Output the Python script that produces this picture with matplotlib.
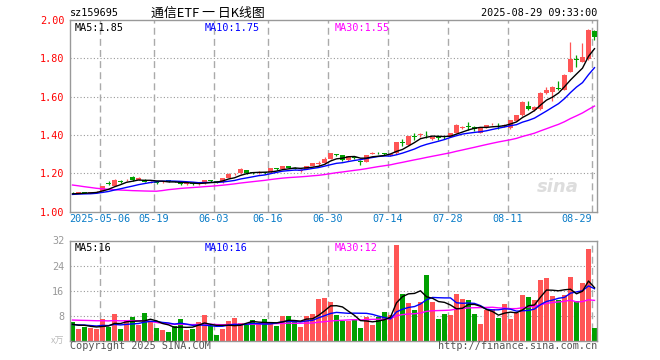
import numpy as np
import pandas as pd
import matplotlib.pyplot as plt

code = "sz159695"
title = "通信ETF 一 日K线图"
stamp = "2025-08-29 09:33:00"

tick_idx = [5, 14, 24, 33, 43, 53, 63, 73, 87]
tick_lbl = ["2025-05-06", "05-19", "06-03", "06-16", "06-30",
            "07-14", "07-28", "08-11", "08-29"]

opens = [1.097, 1.096, 1.100, 1.097, 1.098, 1.107, 1.147, 1.135, 1.156, 1.163,
         1.182, 1.165, 1.165, 1.150, 1.152, 1.152, 1.165, 1.157, 1.152, 1.143,
         1.150, 1.142, 1.147, 1.160, 1.157, 1.152, 1.177, 1.194, 1.200, 1.215,
         1.202, 1.203, 1.202, 1.205, 1.224, 1.222, 1.237, 1.226, 1.213, 1.222,
         1.239, 1.248, 1.252, 1.274, 1.296, 1.295, 1.269, 1.282, 1.262, 1.260,
         1.302, 1.306, 1.301, 1.293, 1.304, 1.362, 1.347, 1.392, 1.399, 1.402,
         1.377, 1.387, 1.389, 1.390, 1.410, 1.438, 1.442, 1.443, 1.410, 1.440,
         1.455, 1.452, 1.446, 1.434, 1.473, 1.504, 1.551, 1.530, 1.534, 1.617,
         1.626, 1.643, 1.634, 1.730, 1.794, 1.782, 1.795, 1.943]
closes = [1.094, 1.102, 1.098, 1.099, 1.104, 1.133, 1.145, 1.164, 1.154, 1.166,
          1.162, 1.176, 1.156, 1.154, 1.150, 1.156, 1.157, 1.155, 1.142, 1.146,
          1.142, 1.146, 1.164, 1.158, 1.155, 1.173, 1.198, 1.196, 1.220, 1.200,
          1.200, 1.206, 1.200, 1.227, 1.222, 1.237, 1.227, 1.224, 1.216, 1.237,
          1.252, 1.251, 1.274, 1.304, 1.294, 1.269, 1.289, 1.280, 1.260, 1.295,
          1.305, 1.304, 1.299, 1.300, 1.361, 1.356, 1.394, 1.389, 1.401, 1.398,
          1.387, 1.385, 1.387, 1.410, 1.452, 1.441, 1.440, 1.430, 1.434, 1.450,
          1.458, 1.450, 1.449, 1.478, 1.504, 1.573, 1.534, 1.547, 1.620, 1.634,
          1.652, 1.640, 1.713, 1.795, 1.790, 1.805, 1.948, 1.913]
highs = [1.100, 1.104, 1.101, 1.101, 1.106, 1.135, 1.157, 1.170, 1.162, 1.168,
         1.183, 1.178, 1.170, 1.157, 1.156, 1.158, 1.166, 1.160, 1.154, 1.150,
         1.152, 1.149, 1.166, 1.163, 1.159, 1.175, 1.200, 1.200, 1.228, 1.217,
         1.205, 1.213, 1.206, 1.229, 1.228, 1.239, 1.239, 1.230, 1.222, 1.239,
         1.254, 1.262, 1.285, 1.306, 1.300, 1.297, 1.292, 1.287, 1.268, 1.297,
         1.312, 1.312, 1.306, 1.302, 1.363, 1.378, 1.396, 1.412, 1.410, 1.418,
         1.390, 1.398, 1.396, 1.412, 1.455, 1.446, 1.468, 1.447, 1.436, 1.452,
         1.462, 1.460, 1.455, 1.480, 1.506, 1.576, 1.575, 1.550, 1.622, 1.652,
         1.655, 1.680, 1.716, 1.887, 1.818, 1.880, 1.953, 1.950]
lows = [1.090, 1.094, 1.095, 1.094, 1.095, 1.105, 1.136, 1.133, 1.148, 1.158,
        1.160, 1.163, 1.152, 1.148, 1.145, 1.150, 1.154, 1.152, 1.140, 1.140,
        1.140, 1.139, 1.145, 1.155, 1.150, 1.150, 1.175, 1.190, 1.198, 1.198,
        1.196, 1.198, 1.196, 1.203, 1.218, 1.220, 1.225, 1.220, 1.205, 1.220,
        1.237, 1.240, 1.250, 1.272, 1.288, 1.266, 1.266, 1.274, 1.245, 1.257,
        1.298, 1.298, 1.294, 1.290, 1.302, 1.340, 1.345, 1.375, 1.387, 1.385,
        1.372, 1.375, 1.380, 1.388, 1.408, 1.430, 1.425, 1.420, 1.408, 1.438,
        1.450, 1.430, 1.440, 1.430, 1.471, 1.500, 1.530, 1.527, 1.532, 1.614,
        1.575, 1.634, 1.632, 1.728, 1.756, 1.780, 1.793, 1.896]
# volume in 万手
volumes = [6.1, 3.6, 4.5, 3.9, 3.8, 6.9, 4.5, 8.5, 3.7, 6.6,
           7.6, 5.0, 8.8, 6.3, 4.0, 3.4, 2.8, 4.7, 6.9, 3.5,
           3.7, 6.0, 8.2, 4.8, 1.8, 3.7, 6.3, 7.4, 5.5, 5.0,
           6.6, 5.2, 6.8, 5.3, 4.7, 7.9, 7.9, 6.4, 4.4, 7.9,
           8.4, 13.3, 13.6, 12.4, 8.2, 6.4, 6.4, 7.0, 4.1, 7.6,
           5.0, 7.7, 9.1, 8.2, 30.5, 14.9, 12.1, 9.8, 12.4, 21.0,
           12.4, 6.9, 8.5, 8.2, 14.9, 13.3, 13.0, 8.5, 5.3, 9.8,
           10.0, 7.2, 11.7, 6.9, 8.7, 14.6, 13.9, 13.0, 19.4, 20.0,
           14.3, 13.0, 14.6, 20.3, 12.7, 18.4, 29.3, 4.0]

# the 29 sessions before the window, only needed to seed the moving averages
hist_close = [1.227, 1.239, 1.220, 1.231, 1.213, 1.222, 1.229, 1.211, 1.203, 1.210,
              1.204, 1.186, 1.175, 1.162, 1.052, 1.018, 1.063, 1.041, 1.072, 1.078,
              1.083, 1.089, 1.092, 1.080, 1.087, 1.096, 1.088, 1.090, 1.093]
hist_vol = [5.6, 6.0, 5.3, 5.8, 6.7, 6.1, 5.6, 6.0, 5.3, 6.4,
            7.0, 8.6, 12.5, 14.6, 10.4, 8.8, 7.6, 6.9, 5.9, 5.2,
            5.0, 4.8, 5.6, 5.3, 4.9, 5.1, 4.6, 5.5, 4.9]

RED = "#ff5555"
GREEN = "#00a000"
MONO = "DejaVu Sans Mono"
n = len(closes)
h = len(hist_close)


def ma(hist, vals, k):
    s = pd.Series(hist + vals)
    return s.rolling(k).mean().iloc[h:].values


o = np.array(opens)
c = np.array(closes)
x = np.arange(n)
cols = [RED if c[i] >= o[i] else GREEN for i in range(n)]

fig = plt.figure(figsize=(6.6, 3.6), dpi=100)
W, H = 660, 360
ax1 = fig.add_axes([70 / W, 1 - 211.5 / H, 527 / W, 191.5 / H])
ax2 = fig.add_axes([70 / W, 1 - 340.7 / H, 527 / W, 100.2 / H])

xl = (-0.417, n - 1 + 0.417)
grid_x = [i - 0.417 for i in tick_idx]

# price panel
for lv in [1.2, 1.4, 1.6, 1.8]:
    ax1.axhline(lv, color="#999999", lw=0.8, ls=(0, (1, 2)), zorder=0)
for gx in grid_x:
    ax1.axvline(gx, color="#aaaaaa", lw=1.0, ls=(0, (5, 3)), zorder=0)

body_lo = np.minimum(o, c)
body_h = np.maximum(np.abs(c - o), 0.004)
ax1.vlines(x, lows, highs, colors=cols, lw=0.9, zorder=2)
ax1.bar(x, body_h, bottom=body_lo, width=0.83, color=cols, lw=0, zorder=3)

ma5 = ma(hist_close, closes, 5)
ma10 = ma(hist_close, closes, 10)
ma30 = ma(hist_close, closes, 30)
ax1.plot(x, ma30, color="#ff00ff", lw=1.0, zorder=4)
ax1.plot(x, ma10, color="#0000ff", lw=1.0, zorder=4)
ax1.plot(x, ma5, color="black", lw=1.0, zorder=4)

ax1.set_xlim(*xl)
ax1.set_ylim(1.0, 2.0)
ax1.set_yticks(np.arange(1.0, 2.01, 0.2))
ax1.set_yticklabels(["%.2f" % v for v in np.arange(1.0, 2.01, 0.2)],
                    color="red", fontsize=7.3, family=MONO)
ax1.set_xticks(grid_x)
ax1.set_xticklabels(tick_lbl, color="#0a7cc7", fontsize=7.3, family=MONO)
ax1.get_xticklabels()[-1].set_ha("right")
ax1.tick_params(length=0, pad=4)
ax1.tick_params(axis="x", pad=2)

ax1.text(5 / 527, 0.985, "MA5:%.2f" % ma5[-1], transform=ax1.transAxes,
         va="top", fontsize=7.3, family=MONO, color="black")
ax1.text(135 / 527, 0.985, "MA10:%.2f" % ma10[-1], transform=ax1.transAxes,
         va="top", fontsize=7.3, family=MONO, color="#0000ff")
ax1.text(265 / 527, 0.985, "MA30:%.2f" % ma30[-1], transform=ax1.transAxes,
         va="top", fontsize=7.3, family=MONO, color="#ff00ff")
ax1.text(0.965, 0.1, "sina", transform=ax1.transAxes, ha="right",
         fontsize=13, fontweight="bold", style="italic", color="#dddddd",
         zorder=1)

# volume panel
for lv in [8, 16, 24]:
    ax2.axhline(lv, color="#999999", lw=0.8, ls=(0, (1, 2)), zorder=0)
for gx in grid_x:
    ax2.axvline(gx, color="#aaaaaa", lw=1.0, ls=(0, (5, 3)), zorder=0)

ax2.bar(x, volumes, width=0.83, color=cols, lw=0, zorder=2)
vma5 = ma(hist_vol, volumes, 5)
vma10 = ma(hist_vol, volumes, 10)
vma30 = ma(hist_vol, volumes, 30)
ax2.plot(x, vma30, color="#ff00ff", lw=1.0, zorder=3)
ax2.plot(x, vma10, color="#0000ff", lw=1.0, zorder=3)
ax2.plot(x, vma5, color="black", lw=1.0, zorder=3)

ax2.set_xlim(*xl)
ax2.set_ylim(0, 32)
ax2.set_yticks([8, 16, 24, 32])
ax2.set_yticklabels(["8", "16", "24", "32"], color="#999999",
                    fontsize=7.3, family=MONO)
ax2.set_xticks([])
ax2.tick_params(length=0, pad=4)

ax2.text(5 / 527, 0.975, "MA5:%d" % int(vma5[-1]), transform=ax2.transAxes,
         va="top", fontsize=7.3, family=MONO, color="black")
ax2.text(135 / 527, 0.975, "MA10:%d" % int(vma10[-1]), transform=ax2.transAxes,
         va="top", fontsize=7.3, family=MONO, color="#0000ff")
ax2.text(265 / 527, 0.975, "MA30:%d" % int(vma30[-1]), transform=ax2.transAxes,
         va="top", fontsize=7.3, family=MONO, color="#ff00ff")

for ax in (ax1, ax2):
    for sp in ax.spines.values():
        sp.set_color("#999999")
        sp.set_linewidth(1.0)

# header and footer
fig.text(70 / W, 1 - 13 / H, code, va="center", fontsize=7.3, family=MONO)
fig.text(151 / W, 1 - 13 / H, title, va="center", fontsize=9.3,
         family=["Noto Sans CJK SC", "DejaVu Sans"])
fig.text(597 / W, 1 - 13 / H, stamp, va="center", ha="right",
         fontsize=7.3, family=MONO)
fig.text(64 / W, 1 - 341 / H, "x万", va="center", ha="right", fontsize=6.5,
         color="#bbbbbb", family=["Noto Sans CJK SC", "DejaVu Sans"])
fig.text(70 / W, 1 - 346 / H, "Copyright 2025 SINA.COM", va="center",
         fontsize=7.3, family=MONO, color="#555555")
fig.text(597 / W, 1 - 346 / H, "http://finance.sina.com.cn", va="center",
         ha="right", fontsize=7.3, family=MONO, color="#555555")

fig.savefig("out.png", dpi=100)
